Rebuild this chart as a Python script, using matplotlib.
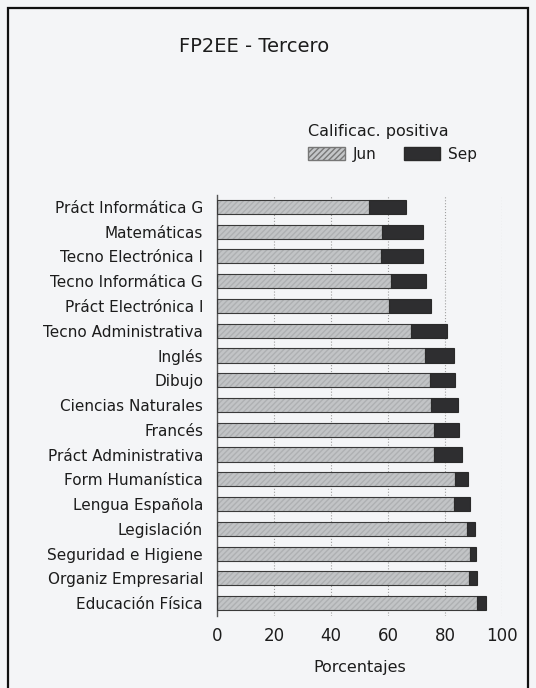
import numpy as np
import matplotlib.pyplot as plt
from matplotlib.patches import Rectangle, Patch

plt.rcParams['font.family'] = ['DejaVu Sans']

# Data
subjects = ['Práct Informática G', 'Matemáticas', 'Tecno Electrónica I',
            'Tecno Informática G', 'Práct Electrónica I', 'Tecno Administrativa',
            'Inglés', 'Dibujo', 'Ciencias Naturales', 'Francés',
            'Práct Administrativa', 'Form Humanística', 'Lengua Española',
            'Legislación', 'Seguridad e Higiene', 'Organiz Empresarial',
            'Educación Física']
jun = [53.5, 58.0, 57.4, 61.0, 60.4, 68.0, 73.0, 74.6, 75.0, 76.0,
       76.3, 83.5, 83.0, 87.6, 88.6, 88.3, 91.3]
total = [66.3, 72.2, 72.2, 73.3, 75.2, 80.8, 83.1, 83.5, 84.4, 84.8,
         85.8, 88.2, 88.8, 90.5, 90.9, 91.3, 94.4]
sep = [t - j for t, j in zip(total, jun)]
xticks = [0, 20, 40, 60, 80, 100]

bg = '#f4f5f7'
txt = '#1c1c1c'
fig = plt.figure(figsize=(5.36, 6.88), dpi=100, facecolor=bg)

# outer frame of the scanned chart
fig.patches.append(Rectangle((8 / 536, -0.02), 520 / 536, 1 - 8 / 688 + 0.02,
                             transform=fig.transFigure, fill=False,
                             edgecolor='#111111', linewidth=1.6))

ax = fig.add_axes([217 / 536, 1 - 616 / 688, 285 / 536, 421 / 688])
ax.set_facecolor('none')

y = np.arange(len(subjects))
h = 0.57
ax.barh(y, jun, height=h, color='#c2c4c6', edgecolor='#aeb0b2',
        hatch='//////', linewidth=0, zorder=2)
ax.barh(y, sep, left=jun, height=h, color='#2e2e30', linewidth=0, zorder=2)
ax.barh(y, jun, height=h, fill=False, edgecolor='#3a3a3a', linewidth=0.8, zorder=3)
ax.barh(y, sep, left=jun, height=h, fill=False, edgecolor='#2a2a2a', linewidth=0.8, zorder=3)

ax.set_xlim(0, 100)
ax.set_ylim(len(subjects) - 0.48, -0.48)
ax.set_yticks(y)
ax.set_yticklabels(subjects, fontsize=11, color=txt)
ax.set_xticks(xticks)
ax.set_xticklabels([str(v) for v in xticks], fontsize=12, color=txt)
ax.tick_params(axis='y', length=0, pad=10)
ax.tick_params(axis='x', length=0, pad=8)
ax.xaxis.grid(True, linestyle=':', color='#a0a0a0', linewidth=0.8, zorder=0)
for s in ['top', 'right', 'bottom']:
    ax.spines[s].set_visible(False)
ax.spines['left'].set_color('#555555')
ax.spines['left'].set_linewidth(1.0)

ax.set_xlabel('Porcentajes', fontsize=11.5, color=txt, labelpad=11)

fig.text(254 / 536, 1 - 47 / 688, 'FP2EE - Tercero', fontsize=14,
         ha='center', va='center', color=txt)

handles = [Patch(facecolor='#c4c6c8', edgecolor='#777777', hatch='//////', label='Jun'),
           Patch(facecolor='#2e2e30', edgecolor='#2a2a2a', label='Sep')]
leg = fig.legend(handles=handles, loc='upper left',
                 bbox_to_anchor=(302 / 536, 1 - 118 / 688), ncol=2,
                 title='Calificac. positiva', title_fontsize=11.5, fontsize=11,
                 frameon=False, handlelength=2.4, handleheight=0.95,
                 handletextpad=0.5, columnspacing=1.8, alignment='left',
                 borderaxespad=0, labelcolor=txt)
leg.get_title().set_color(txt)

fig.savefig('out.png', dpi=100, facecolor=bg)
